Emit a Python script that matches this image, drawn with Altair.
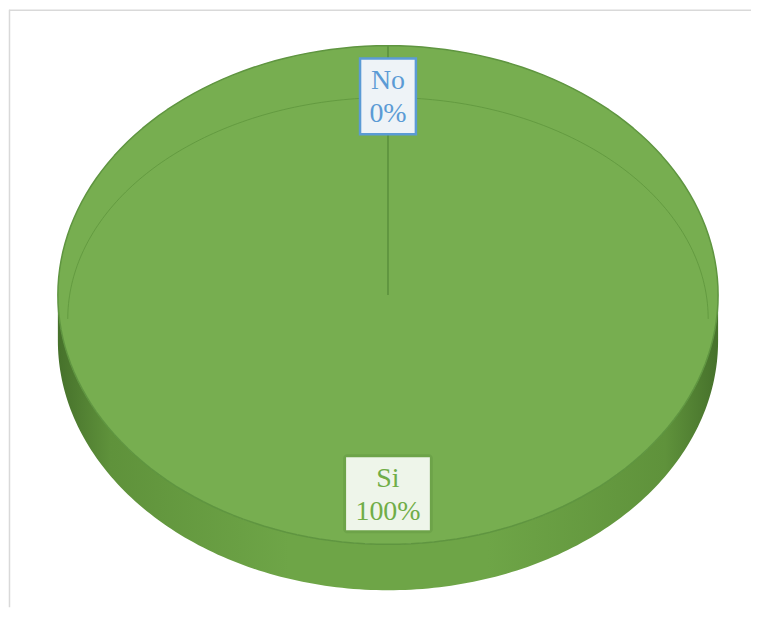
import altair as alt
import pandas as pd

# ---- data ----
categories = ["Si", "No"]
values = [100, 0]
label_colors = ["#70ad47", "#5b9bd5"]

# ---- layout / style constants ----
W, H = 744, 600
CX, CY = 380, 287          # pie centre in plot pixels
RX, RY = 331, 250          # top-face radii in pixels
DEPTH = 46 / RY            # 3D thickness in y-units
N = 180                    # arc sampling
LABEL_R = 0.797

GREEN = "#77ae50"
EDGE = "#5f9540"

df = pd.DataFrame({"cat": categories, "value": values, "idx": list(range(len(categories)))})

xs = alt.Scale(domain=[-CX / RX, (W - CX) / RX], nice=False, zero=False)
ys = alt.Scale(domain=[-CY / RY, (H - CY) / RY], nice=False, zero=False, reverse=True)


def base():
    return (
        alt.Chart(df)
        .transform_joinaggregate(total="sum(value)")
        .transform_window(cum="sum(value)", sort=[alt.SortField("idx")])
        .transform_calculate(
            a0="2*PI*(datum.cum - datum.value)/datum.total",
            a1="2*PI*datum.cum/datum.total",
        )
        .transform_calculate(mid="(datum.a0 + datum.a1)/2")
    )


# side of the 3D pie (front half only)
side_grad = alt.Gradient(
    gradient="linear",
    x1=0, x2=1, y1=0, y2=0,
    stops=[
        alt.GradientStop(color="#46712b", offset=0),
        alt.GradientStop(color="#5f923b", offset=0.08),
        alt.GradientStop(color="#6ea547", offset=0.35),
        alt.GradientStop(color="#6ea547", offset=0.65),
        alt.GradientStop(color="#5f923b", offset=0.92),
        alt.GradientStop(color="#46712b", offset=1),
    ],
)
side = (
    base()
    .transform_calculate(s0="max(datum.a0, PI/2)", s1="min(datum.a1, 3*PI/2)")
    .transform_filter("datum.s1 > datum.s0")
    .transform_calculate(i=f"sequence(0, {N + 1})")
    .transform_flatten(["i"])
    .transform_calculate(ang=f"datum.s0 + (datum.s1 - datum.s0)*datum.i/{N}")
    .transform_calculate(px="sin(datum.ang)", py="-cos(datum.ang)", py2=f"-cos(datum.ang) + {DEPTH}")
    .mark_area(fill=side_grad, strokeWidth=0)
    .encode(
        x=alt.X("px:Q", scale=xs, axis=None),
        y=alt.Y("py:Q", scale=ys, axis=None),
        y2="py2:Q",
        detail="cat:N",
    )
)

# top faces of slices
top = (
    base()
    .transform_calculate(i=f"sequence(0, {N + 3})")
    .transform_flatten(["i"])
    .transform_calculate(ang=f"datum.a0 + (datum.a1 - datum.a0)*clamp((datum.i - 1)/{N}, 0, 1)")
    .transform_calculate(
        px=f"(datum.i == 0 || datum.i == {N + 2}) ? 0 : sin(datum.ang)",
        py=f"(datum.i == 0 || datum.i == {N + 2}) ? 0 : -cos(datum.ang)",
    )
    .mark_line(fill=GREEN, stroke=EDGE, strokeWidth=1.5, strokeJoin="round", interpolate="linear")
    .encode(
        x=alt.X("px:Q", scale=xs, axis=None),
        y=alt.Y("py:Q", scale=ys, axis=None),
        detail="cat:N",
        order="i:Q",
    )
)

# faint bevel line
bevel = (
    alt.Chart(alt.sequence(0, N + 1, as_="i"))
    .transform_calculate(ang=f"-PI/2 + PI*datum.i/{N}")
    .transform_calculate(px="0.97*sin(datum.ang)", py="0.096 - 0.888*cos(datum.ang)")
    .mark_line(stroke="#5e953c", strokeWidth=1, opacity=0.8)
    .encode(
        x=alt.X("px:Q", scale=xs, axis=None),
        y=alt.Y("py:Q", scale=ys, axis=None),
        order="i:Q",
    )
)


def labels():
    return base().transform_calculate(
        lx=f"{LABEL_R}*sin(datum.mid)",
        ly=f"-{LABEL_R}*cos(datum.mid)",
        label="datum.cat + '\\n' + format(datum.value/datum.total, '.0%')",
    )


enc_xy = dict(x=alt.X("lx:Q", scale=xs, axis=None), y=alt.Y("ly:Q", scale=ys, axis=None))

box_si_shadow = (
    labels().transform_filter("datum.cat == 'Si'")
    .mark_rect(width=90, height=79, fill="#4f7f33", opacity=0.22, cornerRadius=4)
    .encode(**enc_xy)
)
box_si = (
    labels().transform_filter("datum.cat == 'Si'")
    .mark_rect(width=84, height=73, fill="#eef5ea")
    .encode(**enc_xy)
)
box_no = (
    labels().transform_filter("datum.cat == 'No'")
    .mark_rect(width=56, height=76, fill="#eef3f7", stroke="#5b9bd5", strokeWidth=2.5)
    .encode(**enc_xy)
)
texts = (
    labels()
    .mark_text(font="Liberation Serif", fontSize=28, lineBreak="\n", lineHeight=33,
               align="center", baseline="middle", dy=-15)
    .encode(
        text="label:N",
        color=alt.Color("cat:N", scale=alt.Scale(domain=categories, range=label_colors), legend=None),
        **enc_xy,
    )
)

one = pd.DataFrame({"k": [0]})
frame_top = alt.Chart(one).mark_rule(color="#d9d9d9", strokeWidth=1.5).encode(
    x=alt.value(0), x2=alt.value(W), y=alt.value(1.5))
frame_left = alt.Chart(one).mark_rule(color="#d9d9d9", strokeWidth=1.5).encode(
    x=alt.value(0.5), y=alt.value(1), y2=alt.value(H))

chart = (
    alt.layer(side, top, bevel, box_si_shadow, box_si, box_no, texts, frame_top, frame_left)
    .properties(width=W, height=H, padding=0)
    .configure_view(stroke=None)
)

chart.save("out.html", embed_options={"renderer": "svg", "actions": False})
